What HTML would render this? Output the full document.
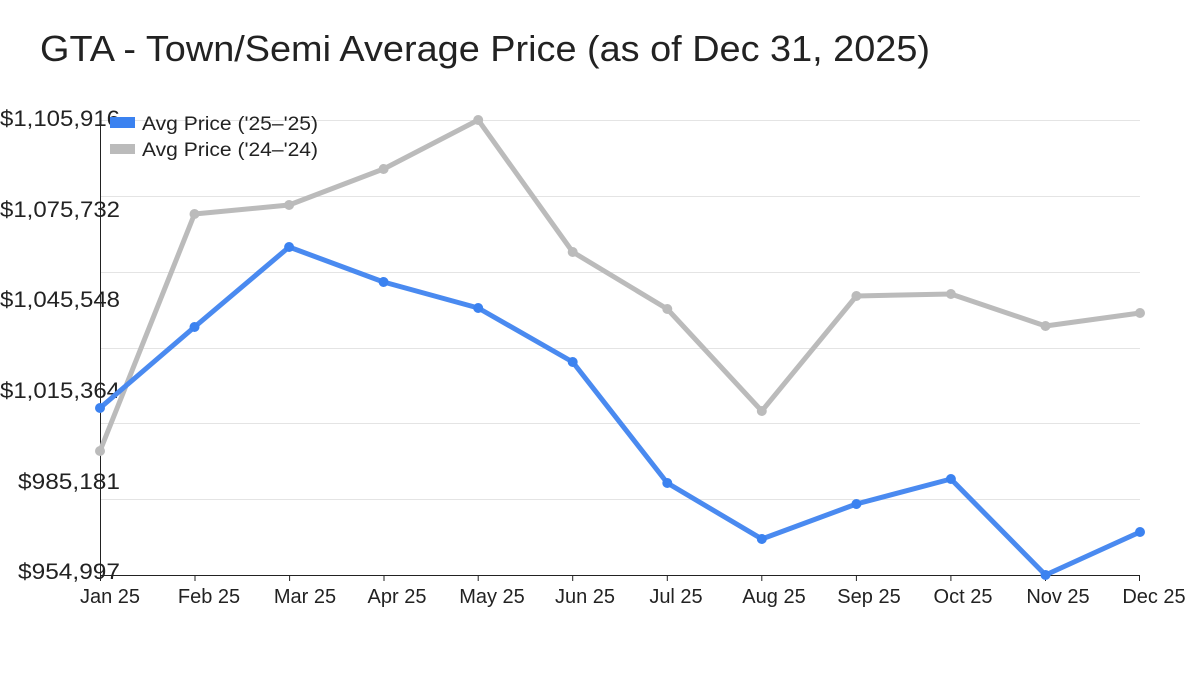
<!DOCTYPE html>
<html><head><meta charset="utf-8"><style>
body{margin:0;background:#fff;}
svg{display:block;font-family:"Liberation Sans",sans-serif;}
</style></head><body>
<svg width="1200" height="675" viewBox="0 0 1200 675">
<text x="40" y="61" font-size="36" fill="#222" textLength="890" lengthAdjust="spacingAndGlyphs">GTA - Town/Semi Average Price (as of Dec 31, 2025)</text>
<g stroke="#e4e4e4" stroke-width="1">
<line x1="100" x2="1140" y1="120.5" y2="120.5"/>
<line x1="100" x2="1140" y1="196.5" y2="196.5"/>
<line x1="100" x2="1140" y1="272.5" y2="272.5"/>
<line x1="100" x2="1140" y1="348.5" y2="348.5"/>
<line x1="100" x2="1140" y1="423.5" y2="423.5"/>
<line x1="100" x2="1140" y1="499.5" y2="499.5"/>
</g>
<line x1="100.5" y1="120" x2="100.5" y2="575" stroke="#222"/>
<line x1="100" y1="575.5" x2="1140" y2="575.5" stroke="#222"/>
<g stroke="#222">
<line x1="100.5" x2="100.5" y1="575" y2="581"/><line x1="195" x2="195" y1="575" y2="581"/><line x1="289.6" x2="289.6" y1="575" y2="581"/><line x1="384" x2="384" y1="575" y2="581"/><line x1="478.2" x2="478.2" y1="575" y2="581"/><line x1="572.7" x2="572.7" y1="575" y2="581"/><line x1="667.3" x2="667.3" y1="575" y2="581"/><line x1="761.8" x2="761.8" y1="575" y2="581"/><line x1="856.4" x2="856.4" y1="575" y2="581"/><line x1="950.9" x2="950.9" y1="575" y2="581"/><line x1="1045.5" x2="1045.5" y1="575" y2="581"/><line x1="1139.5" x2="1139.5" y1="575" y2="581"/>
</g>
<g font-size="22" fill="#222">
<text x="0" y="126" textLength="120" lengthAdjust="spacingAndGlyphs">$1,105,916</text>
<text x="0" y="217" textLength="120" lengthAdjust="spacingAndGlyphs">$1,075,732</text>
<text x="0" y="307" textLength="120" lengthAdjust="spacingAndGlyphs">$1,045,548</text>
<text x="0" y="398" textLength="120" lengthAdjust="spacingAndGlyphs">$1,015,364</text>
<text x="18" y="489" textLength="102" lengthAdjust="spacingAndGlyphs">$985,181</text>
<text x="18" y="579" textLength="102" lengthAdjust="spacingAndGlyphs">$954,997</text>
</g>
<g font-size="20" fill="#222" text-anchor="middle">
<text x="110" y="603">Jan 25</text><text x="209" y="603">Feb 25</text><text x="305" y="603">Mar 25</text><text x="397" y="603">Apr 25</text><text x="492" y="603">May 25</text><text x="585" y="603">Jun 25</text><text x="676" y="603">Jul 25</text><text x="774" y="603">Aug 25</text><text x="869" y="603">Sep 25</text><text x="963" y="603">Oct 25</text><text x="1058" y="603">Nov 25</text><text x="1154" y="603">Dec 25</text>
</g>
<polyline fill="none" stroke="#bbbbbb" stroke-width="5" stroke-linejoin="round" points="100,451 194.5,214 289.1,205 383.6,169 478.2,120 572.7,252 667.3,309 761.8,411 856.4,296 950.9,294 1045.5,326 1140,313"/>
<g fill="#bbbbbb">
<circle cx="100" cy="451" r="5"/><circle cx="194.5" cy="214" r="5"/><circle cx="289.1" cy="205" r="5"/><circle cx="383.6" cy="169" r="5"/><circle cx="478.2" cy="120" r="5"/><circle cx="572.7" cy="252" r="5"/><circle cx="667.3" cy="309" r="5"/><circle cx="761.8" cy="411" r="5"/><circle cx="856.4" cy="296" r="5"/><circle cx="950.9" cy="294" r="5"/><circle cx="1045.5" cy="326" r="5"/><circle cx="1140" cy="313" r="5"/>
</g>
<polyline fill="none" stroke="#4a8af0" stroke-width="5" stroke-linejoin="round" points="100,408 194.5,327 289.1,247 383.6,282 478.2,308 572.7,362 667.3,483 761.8,539 856.4,504 950.9,479 1045.5,575 1140,532"/>
<g fill="#3b82f0">
<circle cx="100" cy="408" r="5"/><circle cx="194.5" cy="327" r="5"/><circle cx="289.1" cy="247" r="5"/><circle cx="383.6" cy="282" r="5"/><circle cx="478.2" cy="308" r="5"/><circle cx="572.7" cy="362" r="5"/><circle cx="667.3" cy="483" r="5"/><circle cx="761.8" cy="539" r="5"/><circle cx="856.4" cy="504" r="5"/><circle cx="950.9" cy="479" r="5"/><circle cx="1045.5" cy="575" r="5"/><circle cx="1140" cy="532" r="5"/>
</g>
<rect x="110" y="117" width="25" height="11" fill="#3b82f0"/>
<rect x="110" y="144" width="25" height="10" fill="#bbbbbb"/>
<g font-size="19" fill="#222">
<text x="142" y="130" textLength="176" lengthAdjust="spacingAndGlyphs">Avg Price ('25–'25)</text>
<text x="142" y="156" textLength="176" lengthAdjust="spacingAndGlyphs">Avg Price ('24–'24)</text>
</g>
</svg>
</body></html>
